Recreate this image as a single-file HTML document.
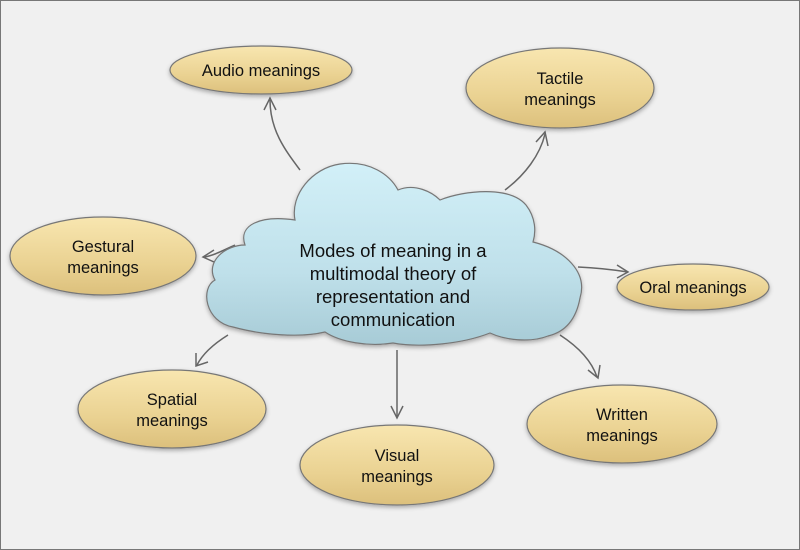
<!DOCTYPE html>
<html><head><meta charset="utf-8"><style>
html,body{margin:0;padding:0;background:#f0f0f0;}
svg{display:block;}
text{font-family:"Liberation Sans",sans-serif;fill:#111;}
</style></head><body>
<svg width="800" height="550" viewBox="0 0 800 550" xmlns="http://www.w3.org/2000/svg">
<defs>
<linearGradient id="g" x1="0" y1="0" x2="0" y2="1">
<stop offset="0" stop-color="#f8e6b0"/><stop offset="0.6" stop-color="#ead292"/><stop offset="1" stop-color="#dcc07c"/>
</linearGradient>
<linearGradient id="c" x1="0" y1="0" x2="0" y2="1">
<stop offset="0" stop-color="#d2f0f8"/><stop offset="0.6" stop-color="#bfe0ea"/><stop offset="1" stop-color="#a7cbd6"/>
</linearGradient>
<filter id="s" x="-20%" y="-20%" width="140%" height="150%"><feDropShadow dx="0" dy="2" stdDeviation="2" flood-color="#000" flood-opacity="0.3"/></filter>
</defs>
<rect x="0.5" y="0.5" width="799" height="549" fill="#f0f0f0" stroke="#777"/>
<g fill="none" stroke="#666" stroke-width="1.5">
<path d="M300,170 C285,150 270,130 270,100"/><path d="M264,110 L270,98 L276,110"/>
<path d="M505,190 C525,175 540,155 545,134"/><path d="M536,142 L545,132 L548,146"/>
<path d="M235,245 C220,252 212,256 204,257"/><path d="M214,250 L203,257 L214,262"/>
<path d="M578,267 C600,268 615,270 628,272"/><path d="M617,265 L628,272 L617,278"/>
<path d="M228,335 C212,345 202,355 197,365"/><path d="M196,353 L196,366 L208,362"/>
<path d="M397,350 L397,417"/><path d="M391,406 L397,418 L403,406"/>
<path d="M560,335 C580,348 592,362 597,377"/><path d="M588,370 L598,378 L600,365"/>
</g>
<g stroke="#777" stroke-width="1.2" filter="url(#s)">
<ellipse cx="261" cy="70" rx="91" ry="24" fill="url(#g)"/>
<ellipse cx="560" cy="88" rx="94" ry="40" fill="url(#g)"/>
<ellipse cx="103" cy="256" rx="93" ry="39" fill="url(#g)"/>
<ellipse cx="693" cy="287" rx="76" ry="23" fill="url(#g)"/>
<ellipse cx="172" cy="409" rx="94" ry="39" fill="url(#g)"/>
<ellipse cx="397" cy="465" rx="97" ry="40" fill="url(#g)"/>
<ellipse cx="622" cy="424" rx="95" ry="39" fill="url(#g)"/>
<path fill="url(#c)" d="M233,327 C205,322 200,288 215,280 C205,262 225,245 245,245 C238,225 260,215 295,220 C290,195 312,168 340,164 C370,160 390,175 398,190 C415,183 432,192 440,200 C465,190 510,186 526,205 C536,218 536,232 533,242 C565,250 588,272 580,298 C576,320 565,332 548,336 C530,343 505,340 490,333 C462,344 420,348 393,343 C368,347 340,342 325,332 C300,338 262,335 233,327 Z"/>
</g>
<g font-size="16.5" text-anchor="middle">
<text x="261" y="76">Audio meanings</text>
<text x="560" y="84">Tactile</text><text x="560" y="105">meanings</text>
<text x="103" y="252">Gestural</text><text x="103" y="273">meanings</text>
<text x="693" y="293">Oral meanings</text>
<text x="172" y="405">Spatial</text><text x="172" y="426">meanings</text>
<text x="397" y="461">Visual</text><text x="397" y="482">meanings</text>
<text x="622" y="420">Written</text><text x="622" y="441">meanings</text>
</g>
<g font-size="18.5" text-anchor="middle">
<text x="393" y="257">Modes of meaning in a</text>
<text x="393" y="280">multimodal theory of</text>
<text x="393" y="303">representation and</text>
<text x="393" y="326">communication</text>
</g>
</svg>
</body></html>
